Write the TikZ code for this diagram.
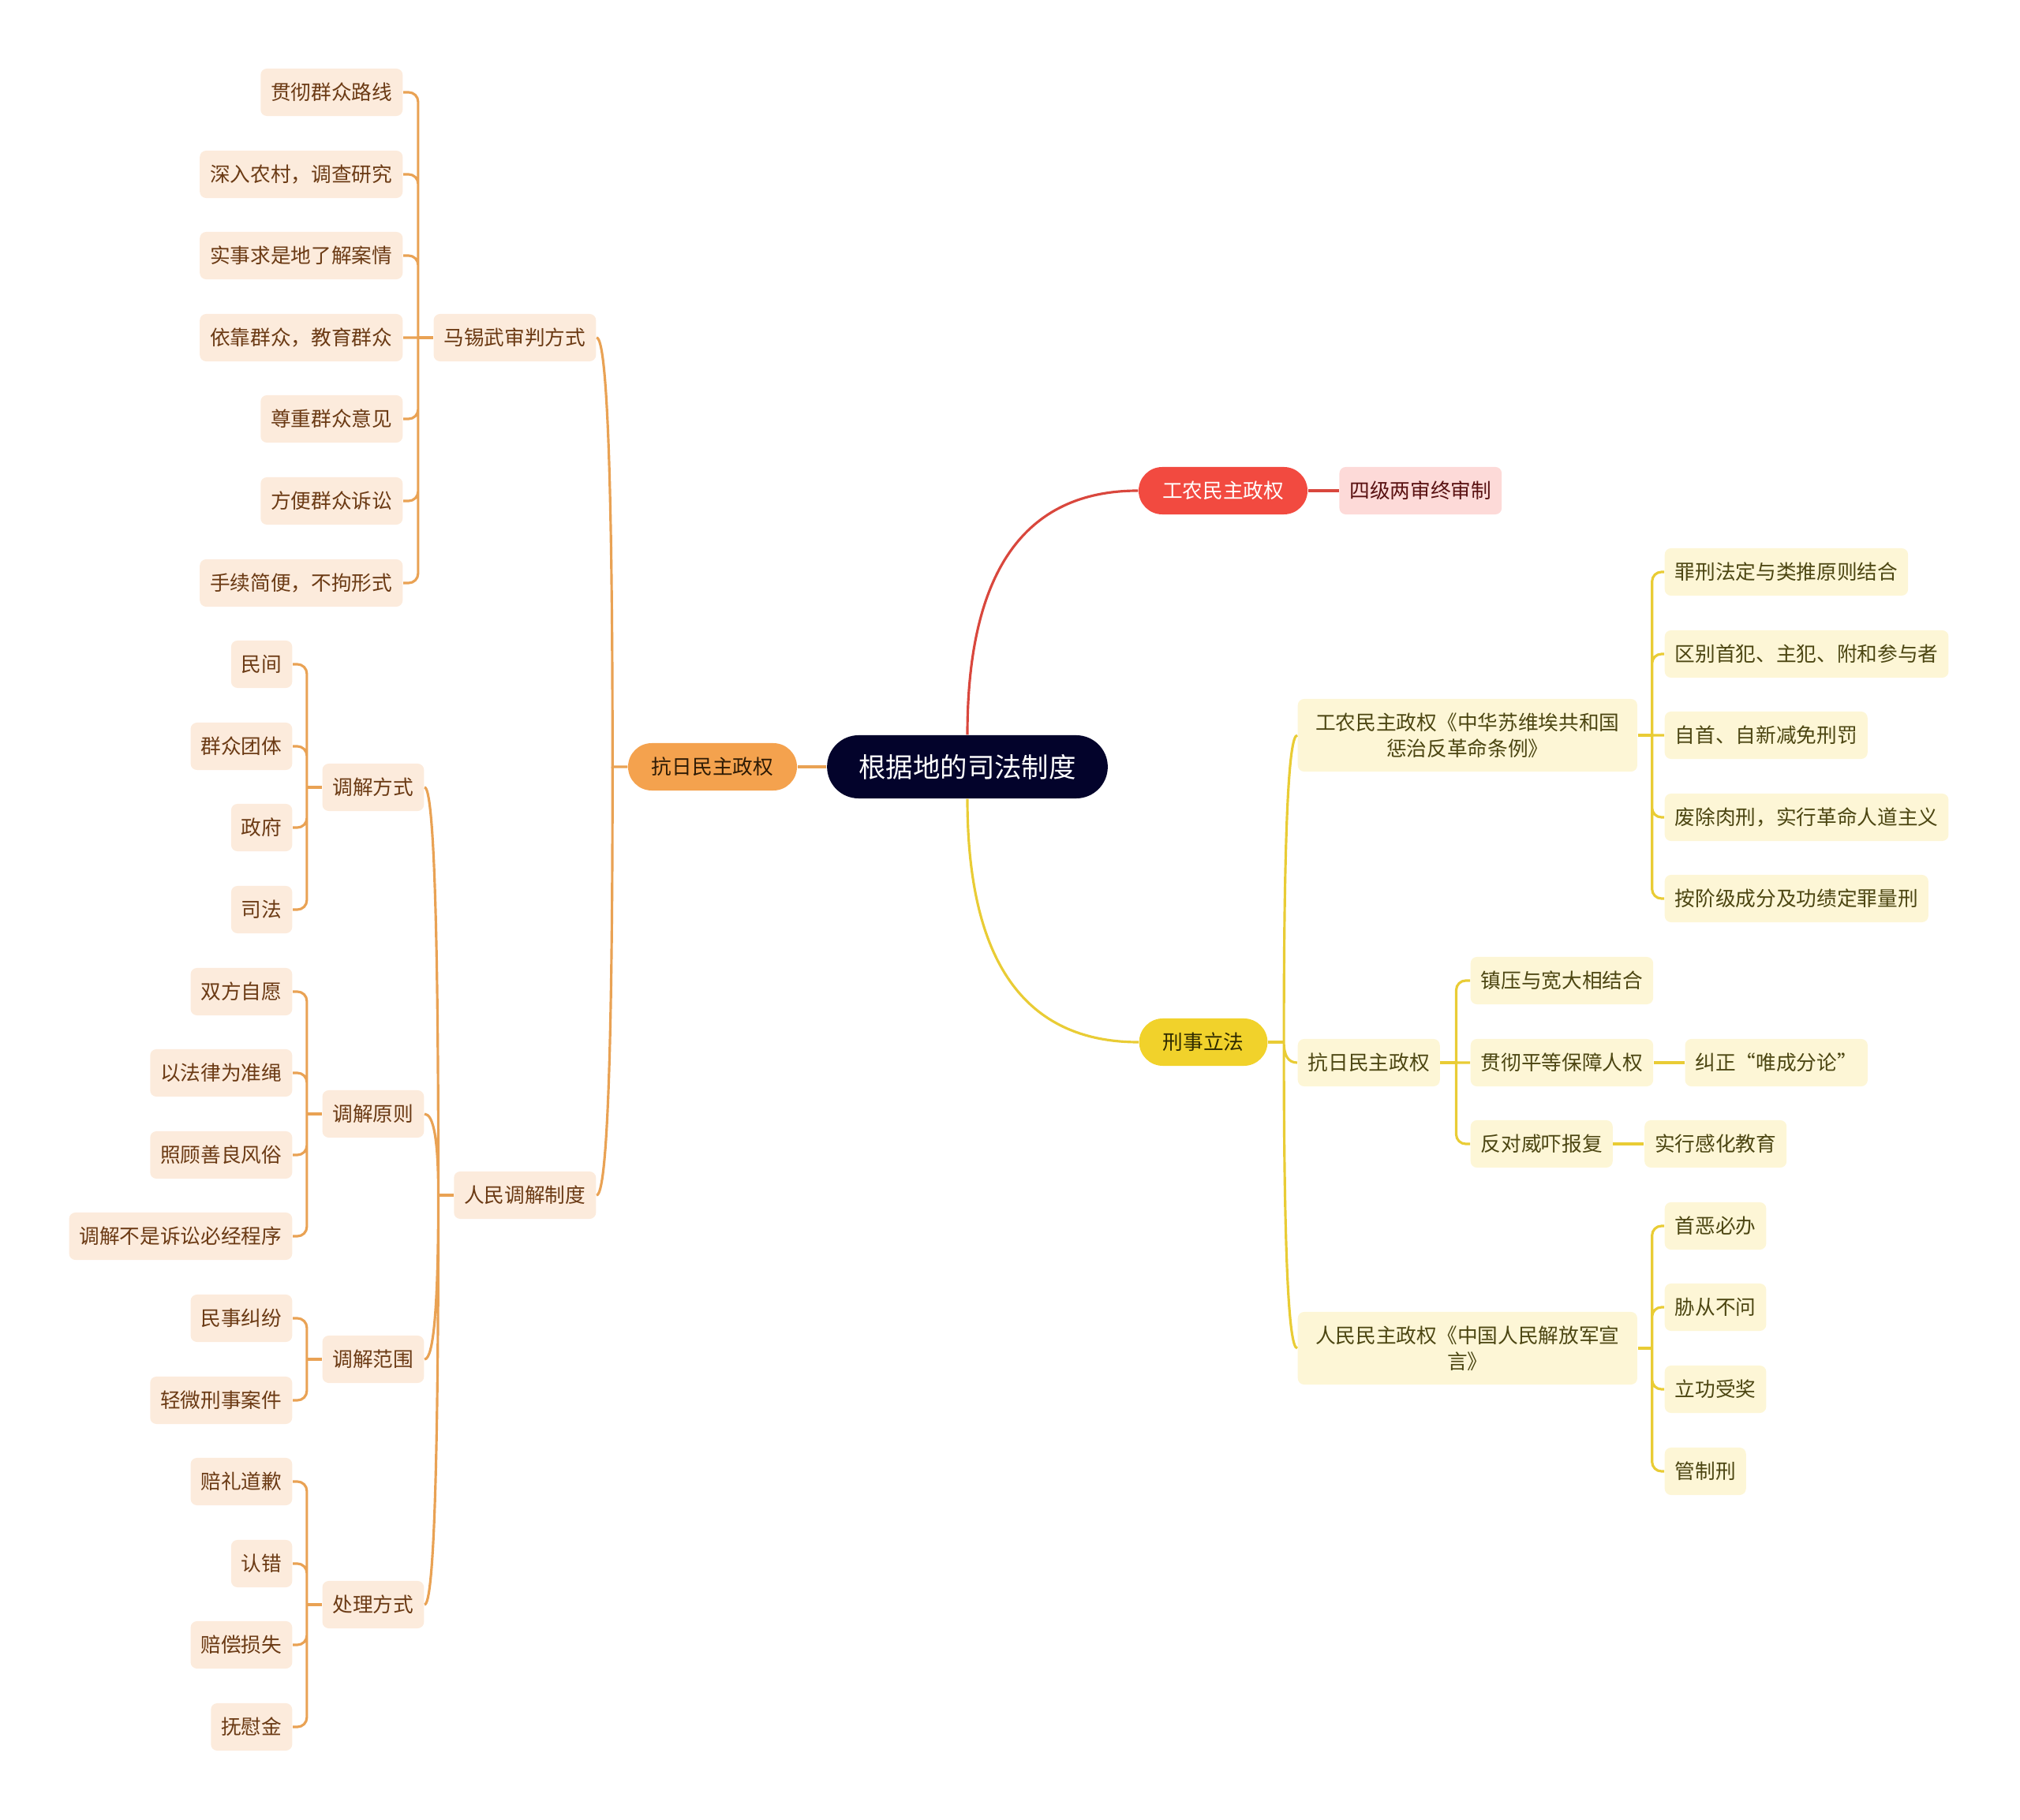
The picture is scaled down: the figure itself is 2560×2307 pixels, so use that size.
\documentclass[tikz,border=0pt]{standalone}
\usepackage{fontspec}
\setmainfont{Noto Sans CJK SC}
\usepackage{xcolor}
\usepackage{tikz}
\usetikzlibrary{positioning,calc}

\definecolor{rootbg}{HTML}{03032B}
\definecolor{redfill}{HTML}{F24A40}
\definecolor{redln}{HTML}{D9473D}
\definecolor{pinkfill}{HTML}{FDDAD8}
\definecolor{pinktext}{HTML}{5A1212}
\definecolor{orfill}{HTML}{F4A24E}
\definecolor{ortext}{HTML}{2E1B05}
\definecolor{orln}{HTML}{E9A254}
\definecolor{peach}{HTML}{FCEBDC}
\definecolor{peachtext}{HTML}{6B3A14}
\definecolor{yefill}{HTML}{F1D22B}
\definecolor{yetext}{HTML}{2E2A00}
\definecolor{yeln}{HTML}{E9CC35}
\definecolor{cream}{HTML}{FDF6D6}
\definecolor{creamtext}{HTML}{4C4612}

\newcommand{\leaffont}{\fontsize{7.3}{9.4}\selectfont}
\newcommand{\rootfont}{\fontsize{9.8}{12}\selectfont}

\begin{document}
\begin{tikzpicture}[
  x=0.01cm, y=-0.01cm,
  rootbox/.style={rectangle, fill=rootbg, text=white, rounded corners=0.4cm, minimum height=0.8cm, inner xsep=0.4cm, inner ysep=0pt, font=\rootfont},
  mainbox/.style={rectangle, rounded corners=0.3cm, minimum height=0.6cm, inner xsep=0.3cm, inner ysep=0pt, font=\leaffont},
  redbox/.style={mainbox, fill=redfill, text=white},
  orbox/.style={mainbox, fill=orfill, text=ortext},
  yebox/.style={mainbox, fill=yefill, text=yetext},
  leafbox/.style={rectangle, rounded corners=0.08cm, minimum height=0.6cm, inner xsep=0.13cm, inner ysep=0pt, font=\leaffont},
  orleaf/.style={leafbox, fill=peach, text=peachtext},
  yeleaf/.style={leafbox, fill=cream, text=creamtext},
  pkleaf/.style={leafbox, fill=pinkfill, text=pinktext},
  twoline/.style={minimum width=4.3cm, minimum height=0.92cm, align=center},
  redline/.style={draw=redln, line width=0.9pt},
  orline/.style={draw=orln, line width=0.9pt},
  yeline/.style={draw=yeln, line width=0.9pt},
  elbow/.style={rounded corners=0.12cm},
  branch/.style={to path={.. controls ($(\tikztostart)!0.667!(\tikztostart |- \tikztotarget)$) and ($(\tikztotarget)!0.667!(\tikztostart |- \tikztotarget)$) .. (\tikztotarget)}}
]
\useasboundingbox (0,0) rectangle (2560,2307);

% Root and first level
\node[rootbox] (root) at (1226,972) {根据地的司法制度};
\node[redbox] (gn) at (1550,622) {工农民主政权};
\node[pkleaf, right=0.39cm of gn] (gnsj) {四级两审终审制};
\node[orbox] (kr) at (903,972) {抗日民主政权};
\node[yebox] (xs) at (1525,1321) {刑事立法};

\draw[redline] (root.north) to[branch] (gn.west);
\draw[redline] (gn.east) -- (gnsj.west);
\draw[orline] (root.west) -- (kr.east);
\draw[yeline] (root.south) to[branch] (xs.west);

% Left: second level
\node[orleaf, anchor=east] (mx) at (756,428) {马锡武审判方式};
\node[orleaf, anchor=east] (tj) at (756,1515) {人民调解制度};

\coordinate[left=0.19cm of kr.west] (krb);
\draw[orline] (kr.west) -- (krb) to[branch] (mx.east);
\draw[orline] (krb) to[branch] (tj.east);

% Ma Xiwu leaves
\node[orleaf, anchor=east] (mx1) at (511,117) {贯彻群众路线};
\node[orleaf, anchor=east] (mx2) at (511,221) {深入农村，调查研究};
\node[orleaf, anchor=east] (mx3) at (511,324) {实事求是地了解案情};
\node[orleaf, anchor=east] (mx4) at (511,428) {依靠群众，教育群众};
\node[orleaf, anchor=east] (mx5) at (511,531) {尊重群众意见};
\node[orleaf, anchor=east] (mx6) at (511,635) {方便群众诉讼};
\node[orleaf, anchor=east] (mx7) at (511,739) {手续简便，不拘形式};

\coordinate[left=0.19cm of mx.west] (mxb);
\draw[orline] (mx.west) -- (mxb);
\draw[orline, elbow] (mxb) |- (mx1.east) (mxb) |- (mx2.east) (mxb) |- (mx3.east)
  (mxb) -- (mx4.east) (mxb) |- (mx5.east) (mxb) |- (mx6.east) (mxb) |- (mx7.east);

% Mediation: third level
\node[orleaf, anchor=east] (fs) at (538,998) {调解方式};
\node[orleaf, anchor=east] (yz) at (538,1412) {调解原则};
\node[orleaf, anchor=east] (fw) at (538,1723) {调解范围};
\node[orleaf, anchor=east] (cl) at (538,2034) {处理方式};

\coordinate[left=0.19cm of tj.west] (tjb);
\draw[orline] (tj.west) -- (tjb);
\draw[orline] (tjb) to[branch] (fs.east) (tjb) to[branch] (yz.east)
  (tjb) to[branch] (fw.east) (tjb) to[branch] (cl.east);

% Mediation leaves
\node[orleaf, anchor=east] (fs1) at (371,842) {民间};
\node[orleaf, anchor=east] (fs2) at (371,946) {群众团体};
\node[orleaf, anchor=east] (fs3) at (371,1049) {政府};
\node[orleaf, anchor=east] (fs4) at (371,1153) {司法};

\node[orleaf, anchor=east] (yz1) at (371,1257) {双方自愿};
\node[orleaf, anchor=east] (yz2) at (371,1360) {以法律为准绳};
\node[orleaf, anchor=east] (yz3) at (371,1464) {照顾善良风俗};
\node[orleaf, anchor=east] (yz4) at (371,1567) {调解不是诉讼必经程序};

\node[orleaf, anchor=east] (fw1) at (371,1671) {民事纠纷};
\node[orleaf, anchor=east] (fw2) at (371,1775) {轻微刑事案件};

\node[orleaf, anchor=east] (cl1) at (371,1878) {赔礼道歉};
\node[orleaf, anchor=east] (cl2) at (371,1982) {认错};
\node[orleaf, anchor=east] (cl3) at (371,2085) {赔偿损失};
\node[orleaf, anchor=east] (cl4) at (371,2189) {抚慰金};

\coordinate[left=0.19cm of fs.west] (fsb);
\coordinate[left=0.19cm of yz.west] (yzb);
\coordinate[left=0.19cm of fw.west] (fwb);
\coordinate[left=0.19cm of cl.west] (clb);
\draw[orline] (fs.west) -- (fsb) (yz.west) -- (yzb) (fw.west) -- (fwb) (cl.west) -- (clb);
\draw[orline, elbow] (fsb) |- (fs1.east) (fsb) |- (fs2.east) (fsb) |- (fs3.east) (fsb) |- (fs4.east);
\draw[orline, elbow] (yzb) |- (yz1.east) (yzb) |- (yz2.east) (yzb) |- (yz3.east) (yzb) |- (yz4.east);
\draw[orline, elbow] (fwb) |- (fw1.east) (fwb) |- (fw2.east);
\draw[orline, elbow] (clb) |- (cl1.east) (clb) |- (cl2.east) (clb) |- (cl3.east) (clb) |- (cl4.east);

% Right: criminal legislation
\node[yeleaf, twoline, anchor=west] (gz) at (1644,932) {工农民主政权《中华苏维埃共和国\\惩治反革命条例》};
\node[yeleaf, anchor=west] (kz) at (1644,1347) {抗日民主政权};
\node[yeleaf, twoline, anchor=west] (rm) at (1644,1709) {人民民主政权《中国人民解放军宣\\言》};

\coordinate[right=0.2cm of xs.east] (xsb);
\draw[yeline] (xs.east) -- (xsb);
\draw[yeline] (xsb) to[branch] (gz.west) (xsb) to[branch] (kz.west) (xsb) to[branch] (rm.west);

% Soviet regulation leaves
\node[yeleaf, anchor=west] (gz1) at (2109,725) {罪刑法定与类推原则结合};
\node[yeleaf, anchor=west] (gz2) at (2109,829) {区别首犯、主犯、附和参与者};
\node[yeleaf, anchor=west] (gz3) at (2109,932) {自首、自新减免刑罚};
\node[yeleaf, anchor=west] (gz4) at (2109,1036) {废除肉刑，实行革命人道主义};
\node[yeleaf, anchor=west] (gz5) at (2109,1139) {按阶级成分及功绩定罪量刑};

\coordinate[right=0.18cm of gz.east] (gzb);
\draw[yeline] (gz.east) -- (gzb);
\draw[yeline, elbow] (gzb) |- (gz1.west) (gzb) |- (gz2.west) (gzb) -- (gz3.west)
  (gzb) |- (gz4.west) (gzb) |- (gz5.west);

% Anti-Japanese leaves
\node[yeleaf, anchor=west] (kz1) at (1863,1243) {镇压与宽大相结合};
\node[yeleaf, anchor=west] (kz2) at (1863,1347) {贯彻平等保障人权};
\node[yeleaf, anchor=west] (kz3) at (1863,1450) {反对威吓报复};
\node[yeleaf, right=0.39cm of kz2] (kz2a) {纠正“唯成分论”};
\node[yeleaf, right=0.39cm of kz3] (kz3a) {实行感化教育};

\coordinate[right=0.2cm of kz.east] (kzb);
\draw[yeline] (kz.east) -- (kzb);
\draw[yeline, elbow] (kzb) |- (kz1.west) (kzb) -- (kz2.west) (kzb) |- (kz3.west);
\draw[yeline] (kz2.east) -- (kz2a.west);
\draw[yeline] (kz3.east) -- (kz3a.west);

% Liberation army declaration leaves
\node[yeleaf, anchor=west] (rm1) at (2109,1554) {首恶必办};
\node[yeleaf, anchor=west] (rm2) at (2109,1657) {胁从不问};
\node[yeleaf, anchor=west] (rm3) at (2109,1761) {立功受奖};
\node[yeleaf, anchor=west] (rm4) at (2109,1865) {管制刑};

\coordinate[right=0.18cm of rm.east] (rmb);
\draw[yeline] (rm.east) -- (rmb);
\draw[yeline, elbow] (rmb) |- (rm1.west) (rmb) |- (rm2.west) (rmb) |- (rm3.west) (rmb) |- (rm4.west);

\end{tikzpicture}
\end{document}
